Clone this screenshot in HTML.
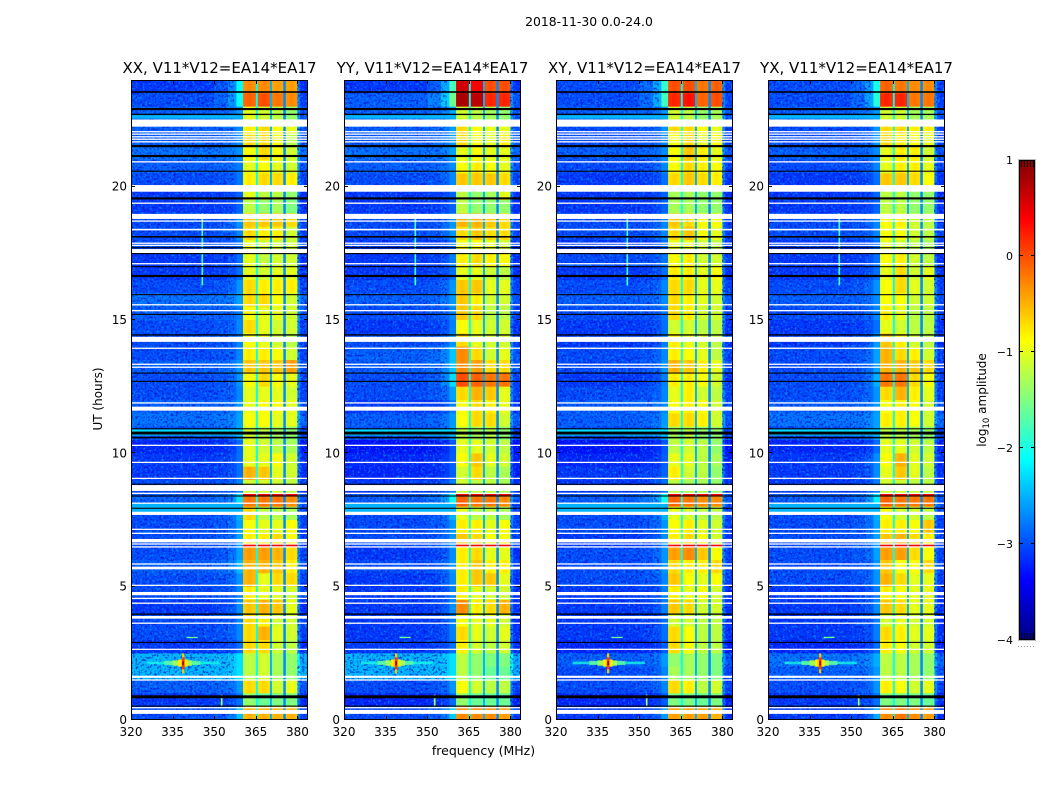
<!DOCTYPE html>
<html><head><meta charset="utf-8"><title>2018-11-30 0.0-24.0</title>
<style>html,body{margin:0;padding:0;background:#fff}svg{display:block}text{font-family:"DejaVu Sans","Liberation Sans",sans-serif;fill:#000}</style></head>
<body>
<svg id="chart" xmlns="http://www.w3.org/2000/svg" width="1050" height="800" viewBox="0 0 1050 800">
<defs>
<filter id="speck-light" x="0" y="0" width="100%" height="100%" color-interpolation-filters="sRGB"><feTurbulence type="fractalNoise" baseFrequency="0.42" numOctaves="2" seed="4"/><feColorMatrix type="matrix" values="0 0 0 0 0  0 0 0 0 0.62  0 0 0 0 1  5 0 0 0 -2.65"/></filter>
<filter id="speck-dark" x="0" y="0" width="100%" height="100%" color-interpolation-filters="sRGB"><feTurbulence type="fractalNoise" baseFrequency="0.42" numOctaves="2" seed="11"/><feColorMatrix type="matrix" values="0 0 0 0 0  0 0 0 0 0.05  0 0 0 0 0.8  5 0 0 0 -2.5"/></filter>
<linearGradient id="cbar-gradient" x1="0" y1="1" x2="0" y2="0"></linearGradient>
</defs>
<text x="589" y="26" font-size="12.4" text-anchor="middle">2018-11-30 0.0-24.0</text>
<text x="483.5" y="755" font-size="12.5" text-anchor="middle">frequency (MHz)</text>
<text transform="translate(102,399) rotate(-90)" font-size="12" text-anchor="middle">UT (hours)</text>
<text transform="translate(986,400) rotate(-90)" font-size="12" text-anchor="middle">log<tspan font-size="8.5" dy="3">10</tspan><tspan dy="-3"> amplitude</tspan></text>
</svg>
<script>
// Row tops run from 24 h downward in half-hour steps.
const rowHours = 0.5;
const panelTitles = ["XX, V11*V12=EA14*EA17","YY, V11*V12=EA14*EA17","XY, V11*V12=EA14*EA17","YX, V11*V12=EA14*EA17"];
const freqTicks = [320,335,350,365,380];
const hourTicks = [0,5,10,15,20];
const colorbarTicks = [-4,-3,-2,-1,0,1];

// Background level for 320-350 MHz, per half-hour row, top to bottom.
const xxBackground = [-3.1,-3.0,-2.9,-2.9,-2.9,-2.8,-2.9,-3.0,-3.1,-3.1,-3.0,-3.0,-3.0,-3.1,-3.1,-3.0,-2.8,-2.9,-3.0,-3.0,-3.0,-2.9,-3.0,-3.0,-2.9,-2.8,-3.0,-3.2,-3.1,-3.1,-3.0,-2.9,-3.0,-3.0,-3.0,-3.0,-2.9,-3.0,-3.0,-3.1,-3.0,-3.0,-3.1,-2.45,-2.45,-2.9,-3.1,-3.0];
const yyBackground = [-3.1,-2.9,-2.9,-2.9,-2.9,-2.8,-2.9,-3.0,-3.1,-3.1,-3.0,-3.0,-3.1,-3.1,-3.1,-3.0,-2.9,-3.0,-3.1,-3.0,-2.9,-2.9,-3.0,-3.0,-3.1,-2.9,-3.0,-3.3,-3.2,-3.2,-3.1,-2.9,-3.0,-3.0,-3.0,-3.1,-3.0,-3.1,-3.1,-3.1,-3.1,-3.1,-3.1,-2.45,-2.45,-3.0,-3.2,-3.0];
const xyBackground = [-3.0,-3.0,-2.9,-3.0,-3.0,-2.9,-3.0,-3.1,-3.1,-3.1,-3.0,-3.0,-3.1,-3.0,-3.1,-3.0,-2.9,-3.0,-3.1,-3.1,-3.0,-3.0,-3.1,-3.0,-2.9,-2.9,-3.0,-3.3,-3.2,-3.1,-3.1,-2.9,-3.0,-3.0,-3.1,-3.0,-3.0,-3.0,-3.1,-3.1,-3.1,-3.1,-3.2,-2.9,-3.0,-3.0,-3.2,-3.1];
const yxBackground = [-3.0,-3.0,-2.9,-3.0,-3.0,-2.9,-3.0,-3.1,-3.1,-3.1,-3.0,-3.0,-3.1,-3.1,-3.1,-3.0,-2.9,-3.0,-3.1,-3.1,-3.0,-3.0,-3.0,-3.0,-2.9,-2.8,-3.0,-3.2,-3.1,-3.1,-3.1,-2.9,-3.0,-3.0,-3.0,-3.0,-3.0,-3.0,-3.1,-3.1,-3.1,-3.1,-3.2,-2.8,-2.9,-3.0,-3.1,-3.1];

// Level just below the band edge (358-360 MHz).
const xxEdge = [-1.7,-1.7,-2.5,-2.6,-2.6,-2.6,-2.7,-2.7,-2.8,-2.8,-2.5,-2.6,-2.7,-2.7,-2.7,-2.5,-2.5,-2.7,-2.6,-2.6,-2.6,-2.5,-2.5,-2.6,-2.5,-2.5,-2.4,-2.7,-2.7,-2.7,-2.6,-2.0,-2.3,-2.4,-2.4,-2.4,-2.3,-2.5,-2.6,-2.5,-2.6,-2.6,-2.7,-2.2,-2.2,-2.5,-2.7,-2.2];
const yyEdge = [-1.2,-1.0,-2.4,-2.5,-2.5,-2.5,-2.6,-2.6,-2.8,-2.8,-2.5,-2.5,-2.7,-2.6,-2.7,-2.5,-2.5,-2.6,-2.6,-2.5,-2.2,-2.2,-2.0,-2.4,-2.6,-2.5,-2.4,-2.8,-2.8,-2.8,-2.6,-1.8,-2.3,-2.5,-2.5,-2.5,-2.5,-2.5,-2.6,-2.5,-2.6,-2.6,-2.7,-2.2,-2.2,-2.5,-2.7,-2.1];
const xyEdge = [-1.4,-1.3,-2.5,-2.5,-2.6,-2.6,-2.6,-2.7,-2.8,-2.8,-2.6,-2.6,-2.7,-2.7,-2.7,-2.6,-2.6,-2.7,-2.7,-2.6,-2.6,-2.5,-2.6,-2.6,-2.6,-2.5,-2.4,-2.8,-2.8,-2.8,-2.7,-1.7,-2.3,-2.5,-2.5,-2.5,-2.5,-2.6,-2.6,-2.6,-2.7,-2.7,-2.8,-2.5,-2.6,-2.6,-2.8,-2.4];
const yxEdge = [-1.6,-1.5,-2.5,-2.5,-2.5,-2.6,-2.6,-2.7,-2.8,-2.8,-2.6,-2.6,-2.7,-2.7,-2.7,-2.5,-2.6,-2.6,-2.7,-2.4,-2.4,-2.4,-2.3,-2.5,-2.5,-2.5,-2.4,-2.7,-2.5,-2.5,-2.6,-1.9,-2.3,-2.4,-2.4,-2.4,-2.5,-2.5,-2.6,-2.5,-2.6,-2.6,-2.7,-2.4,-2.5,-2.5,-2.7,-2.3];

// Levels of the four bright sub-bands [A,B,C,D], per half-hour row.
const xxBands = [[-.2,-.2,-.3,-.3],[.0,.1,-.1,-.2],[-.9,-1,-1.1,-1.3],[-.7,-.6,-.8,-.9],[-.6,-.6,-.8,-1.1],[-.8,-.6,-.8,-1],[-.9,-.8,-.9,-1],[-.7,-.6,-.6,-.7],[-.9,-1.1,-1.1,-1.3],[-1.1,-1.3,-1.2,-1.4],[-.5,-.5,-.5,-.6],[-.6,-.7,-.7,-1],[-.9,-1,-1,-1],[-.9,-1.1,-1,-1],[-.9,-1,-.9,-.9],[-.6,-.7,-.7,-.7],[-.6,-.6,-.8,-1],[-.8,-.9,-.9,-1],[-.6,-.9,-1,-1],[-.8,-.9,-1,-1.1],[-.7,-.7,-.8,-1],[-.5,-.5,-.5,-.3],[-.8,-.6,-.8,-.9],[-.9,-.9,-.9,-1],[-.9,-.8,-.8,-.9],[-.8,-.8,-.9,-.9],[-1,-1.1,-1.2,-1.3],[-.9,-1,-1.1,-1.2],[-.9,-.9,-.8,-1],[-.4,-.5,-.9,-1],[-1,-1,-1,-1.1],[-.1,-.1,-.1,-.2],[-.6,-1.1,-1.1,-1.2],[-.8,-.9,-.9,-.8],[-.7,-.7,-.6,-.8],[-.3,-.3,-.4,-.6],[-.4,-.4,-.5,-.7],[-.4,-.9,-.6,-.6],[-.7,-.9,-.9,-1],[-.5,-.4,-.5,-.9],[-.6,-.7,-1,-1],[-.6,-.4,-.9,-1],[-.6,-.6,-1,-1.1],[-1.1,-1,-1.2,-1.3],[-1.1,-1,-1.2,-1.3],[-.6,-.6,-1,-.9],[-1.3,-1.5,-1.4,-1.4],[-.4,-.4,-.4,-.4]];
const yyBands = [[.7,.5,.1,.1],[.9,.8,.3,.3],[-1,-1.1,-1.2,-1.3],[-.6,-.8,-.9,-.9],[-.6,-.8,-.9,-.7],[-.9,-.8,-.9,-.9],[-.8,-.7,-.8,-.9],[-.5,-.5,-.5,-.6],[-1.1,-1.3,-1.2,-.9],[-1.1,-1.3,-1.3,-1.3],[-.4,-.4,-.5,-.6],[-.6,-.5,-.6,-.6],[-.8,-.8,-.9,-1],[-.7,-.6,-.7,-.8],[-.9,-.9,-1,-1.1],[-.5,-.5,-.9,-.9],[-.5,-.7,-1,-1],[-.5,-.6,-1.1,-1.1],[-.8,-.9,-1,-1],[-.6,-.9,-1,-1],[-.2,-.6,-1,-.9],[-.2,-.3,-.6,-.6],[.1,.0,-.1,-.1],[-.6,-.4,-.5,-.9],[-.8,-.6,-.7,-.9],[-.8,-.6,-.6,-1],[-1.1,-1.2,-1.1,-1.3],[-.9,-.9,-1,-1.1],[-.8,-.5,-.9,-1],[-1,-.6,-1.1,-1.2],[-1,-1.1,-1.1,-1.2],[.0,-.1,-.1,-.2],[-.9,-1.1,-1.1,-1.2],[-.7,-.7,-.9,-.8],[-.5,-.6,-.8,-.8],[-.7,-.6,-.9,-.9],[-.7,-.5,-.7,-.7],[-.7,-.5,-.5,-.9],[-.7,-.9,-1,-1],[-.2,-.7,-.6,-.4],[-.8,-.9,-.9,-1],[-.6,-.9,-1,-.9],[-.7,-1,-1.1,-1],[-1.1,-1.3,-1.4,-1.4],[-1.1,-1.3,-1.5,-1.5],[-.8,-1,-1.1,-1.1],[-1.3,-1.5,-1.5,-1.5],[-.2,-.2,-.2,-.3]];
const xyBands = [[.1,.1,-.1,.0],[.3,.4,.0,.1],[-1,-1.1,-1.3,-1.2],[-.6,-.6,-.8,-.9],[-.8,-.6,-.9,-.8],[-.8,-.5,-.7,-.9],[-.8,-.6,-.7,-.8],[-.6,-.5,-.6,-.7],[-1.2,-1.2,-1.3,-1.3],[-1.2,-1.2,-1.3,-1.3],[-.5,-.6,-.8,-.8],[-.6,-.5,-.8,-.9],[-.9,-.9,-1,-1.1],[-.8,-.7,-1,-1],[-.7,-.7,-.9,-.8],[-.6,-.6,-.9,-.9],[-.6,-.7,-.9,-1],[-.6,-.7,-1,-1],[-1,-1,-1.1,-1.1],[-.7,-.9,-1,-1.1],[-.7,-.8,-.9,-1.1],[-.4,-.5,-.7,-.9],[-.7,-.7,-.8,-1],[-.9,-.7,-1,-1.1],[-.8,-.7,-.8,-1],[-.6,-.6,-.7,-1],[-1.2,-1.1,-1.3,-1.3],[-1.1,-1,-1.1,-1.3],[-.9,-.9,-1.1,-1.2],[-.7,-1,-1.1,-1.3],[-1.1,-1.2,-1.2,-1.3],[.0,-.1,-.2,-.2],[-.9,-1,-1.1,-1.1],[-.8,-.7,-.9,-1],[-.7,-.6,-.8,-1],[-.3,-.2,-.5,-.8],[-.6,-.7,-.7,-.6],[-.5,-.8,-.9,-.8],[-.7,-.9,-.8,-1],[-.5,-.6,-1,-1],[-1,-1,-1.1,-1.1],[-.6,-.8,-1.1,-1.1],[-.6,-.8,-1.1,-1.1],[-1.3,-1.2,-1.3,-1.4],[-1.2,-1.2,-1.3,-1.4],[-.6,-.7,-1.1,-1],[-1.4,-1.4,-1.5,-1.4],[-.3,-.3,-.3,-.4]];
const yxBands = [[.0,-.1,-.2,-.2],[.3,.3,-.1,-.1],[-1,-1,-1.2,-1.2],[-.6,-.6,-.7,-.7],[-.6,-.7,-.8,-.9],[-.9,-.7,-.7,-1],[-.9,-.7,-.7,-.9],[-.5,-.5,-.6,-.8],[-1.1,-1.1,-1.3,-1.3],[-1.1,-1.1,-1.3,-1.3],[-.8,-.7,-1,-1.1],[-.8,-.8,-1,-1.1],[-.9,-1,-1.1,-1.2],[-.8,-.7,-1,-1.1],[-.9,-.6,-1,-.9],[-.8,-.6,-.9,-1],[-.8,-.8,-1,-1],[-.7,-.9,-1.1,-1.1],[-.9,-1,-1.1,-1.1],[-.5,-.7,-1,-1.1],[-.4,-.6,-.7,-1],[-.4,-.4,-.5,-.6],[-.1,-.1,-.6,-.8],[-.6,-.4,-.7,-.9],[-.8,-.7,-.8,-1],[-.7,-.7,-.8,-1],[-1.1,-1.1,-1.2,-1.3],[-.9,-.9,-1,-1.1],[-.8,-.4,-.9,-1],[-.9,-.5,-.9,-1.1],[-1,-1,-1.1,-1.1],[.0,-.1,-.1,-.1],[-.8,-1,-1,-1.1],[-.7,-.7,-.8,-.5],[-.5,-.4,-.6,-.7],[-.3,-.3,-.6,-.8],[-.5,-.8,-.8,-.6],[-.4,-.6,-.9,-.9],[-.7,-.8,-.9,-.9],[-.5,-.6,-.9,-.9],[-1,-.9,-1,-1],[-.6,-.7,-.9,-.9],[-.7,-.8,-1,-1],[-1.1,-1.1,-1.2,-1.3],[-1.1,-1.1,-1.2,-1.3],[-.7,-.8,-1,-.9],[-1.4,-1.4,-1.4,-1.5],[-.2,-.1,-.2,-.3]];

// Frequency columns (MHz) and how each takes its level.
const freqEdges = [320,335,350,355,358,360.4,361.9,363.5,365.0,365.7,367.2,368.8,370.1,370.8,372.2,373.5,374.9,375.8,377.2,378.7,380.0,381,383.8];
const columnKinds = ["bg","bg","bg","bg","bg","band","band","band","slit","band","band","band","slit","band","band","band","slit","band","band","band","near","far"];
const columnBand = [0,0,0,0,0,0,0,0,0,1,1,1,1,2,2,2,2,3,3,3,0,0];
const edgeMix = [0,0,0.1,0.3,0.7];
const bandProfile = [-0.13,-0.08,-0.13,-0.13,-0.08,-0.13,-0.13,-0.08,-0.13,-0.13,-0.08,-0.13];
const slitLevels = [-2.1,-2.5,-2.7];

// Wide-band bright strips below the bands: hour span and level.
const stripHourLow  = [22.55,10.67,7.8];
const stripHourHigh = [22.72,10.9,8.13];
const stripLevel    = [-2.5,-2.3,-2.5];

// Narrow-band interference: frequency span, hour span, level.
const rfiFreqLow  = [326,332,335,337,338.4,338.3,338.5,340,345.4,352.4,352.4];
const rfiFreqHigh = [352,345,342,340.4,339.2,339.3,339.1,344,346,353,353];
const rfiHourLow  = [2.09,2.06,2.03,2.0,1.75,1.9,2.06,3.07,16.3,0.5,0.85];
const rfiHourHigh = [2.19,2.22,2.24,2.27,2.5,2.35,2.2,3.12,19,0.95,0.93];
const rfiLevel    = [-2.0,-1.6,-1.2,-0.8,-0.6,0.1,0.8,-1.6,-1.8,-1.3,-0.5];

// Strong short-lived stripes across the bright bands.
const hotHourLow  = [8.42,6.5];
const hotHourHigh = [8.5,6.58];
const hotLevel    = [0.4,0.35];

// Flagged time ranges (white).
const gapHourLow  = [22.25,19.81,18.79,18.36,17.51,14.18,11.60,8.59,7.69,6.66,5.65,4.68,3.80,1.58,0.23];
const gapHourHigh = [22.52,20.06,18.98,18.42,17.66,14.37,11.75,8.81,7.81,6.79,5.75,4.80,3.90,1.66,0.38];
const gapLineHours = [22.06,21.97,21.87,21.78,21.68,20.93,19.38,18.71,17.88,17.80,17.11,15.57,15.35,13.94,13.34,13.23,11.89,10.30,9.66,9.06,8.50,8.13,7.15,7.00,6.60,6.49,5.85,5.05,4.56,4.38,3.63,2.65,1.50,0.46];
// Zero-amplitude times (black).
const blackHours  = [23.55,22.91,22.71,21.52,21.15,20.58,19.56,18.12,17.71,17.49,17.0,16.65,15.95,15.21,14.44,13.01,12.70,10.92,10.76,10.59,8.84,8.40,7.94,3.97,2.91,0.87,0.52];
const blackWidths = [0.06,0.08,0.05,0.08,0.08,0.04,0.08,0.06,0.04,0.04,0.04,0.08,0.04,0.04,0.05,0.04,0.04,0.04,0.11,0.06,0.04,0.04,0.04,0.05,0.04,0.11,0.04];

const panelBackgrounds = [xxBackground,yyBackground,xyBackground,yxBackground];
const panelEdges = [xxEdge,yyEdge,xyEdge,yxEdge];
const panelBands = [xxBands,yyBands,xyBands,yxBands];
const panelKeys = ["xx","yy","xy","yx"];

const NS = "http://www.w3.org/2000/svg";
const root = document.getElementById("chart");
const axisLefts = [131,344,556,768];
const axisWidth = 177, axisTop = 80, axisHeight = 640;
const freqMin = 320, freqMax = 383.8;

function make(parent, tag, attrs) {
  const el = document.createElementNS(NS, tag);
  for (const k in attrs) el.setAttribute(k, attrs[k]);
  parent.appendChild(el);
  return el;
}
function xScale(p, f) { return axisLefts[p] + (f - freqMin) / (freqMax - freqMin) * axisWidth; }
function yScale(h) { return axisTop + (24 - h) / 24 * axisHeight; }
function jet(t) {
  t = Math.max(0, Math.min(1, t));
  const ch = (a) => Math.max(0, Math.min(1, 1.5 - Math.abs(4 * t - a)));
  return "rgb(" + Math.round(255 * ch(3)) + "," + Math.round(255 * ch(2)) + "," + Math.round(255 * ch(1)) + ")";
}
function levelColor(v) { return jet((v + 4) / 5); }
function cellLevel(p, r, c) {
  const kind = columnKinds[c], bg = panelBackgrounds[p][r], edge = panelEdges[p][r];
  if (kind === "bg") return bg + (edge - bg) * edgeMix[c];
  if (kind === "near") return bg + 0.3;
  if (kind === "far") return bg - 0.05;
  const b = columnBand[c];
  if (kind === "slit") return slitLevels[b];
  const bandCol = c - 5 - b;
  return panelBands[p][r][b] + bandProfile[bandCol];
}

panelKeys.forEach(function (key, p) {
  const g = make(root, "g", {});
  
  
  const clipId = "clip-" + key;
  const clip = make(make(root, "defs", {}), "clipPath", { id: clipId });
  make(clip, "rect", { x: axisLefts[p], y: axisTop, width: axisWidth, height: axisHeight });
  const plot = make(g, "g", { "clip-path": "url(#" + clipId + ")" });
  
  

  panelBackgrounds[p].forEach(function (_, r) {
    const hTop = 24 - r * rowHours;
    columnKinds.forEach(function (_, c) {
      const x0 = xScale(p, freqEdges[c]), x1 = xScale(p, freqEdges[c + 1]);
      const y0 = yScale(hTop), y1 = yScale(hTop - rowHours);
      const cell = make(plot, "rect", { x: x0, y: y0, width: x1 - x0 + 0.3, height: y1 - y0 + 0.3, fill: levelColor(cellLevel(p, r, c)) });
      
      
    });
  });

  // Speckle overlays on the low-level regions
  [["speck-light", 320, 357], ["speck-dark", 320, 357], ["speck-light", 380, 383.8], ["speck-dark", 380, 383.8]].forEach(function (s) {
    const x0 = xScale(p, s[1]), x1 = xScale(p, s[2]);
    const sp = make(plot, "rect", { x: x0, y: axisTop, width: x1 - x0, height: axisHeight, filter: "url(#" + s[0] + ")", opacity: 0.65 });
    
    
  });

  stripLevel.forEach(function (lv, i) {
    const x0 = xScale(p, 320), x1 = xScale(p, 360.4);
    const y0 = yScale(stripHourHigh[i]), y1 = yScale(stripHourLow[i]);
    const m = make(plot, "rect", { x: x0, y: y0, width: x1 - x0, height: y1 - y0, fill: levelColor(lv) });
    
    
  });

  rfiLevel.forEach(function (lv, i) {
    const x0 = xScale(p, rfiFreqLow[i]), x1 = xScale(p, rfiFreqHigh[i]);
    const y0 = yScale(rfiHourHigh[i]), y1 = yScale(rfiHourLow[i]);
    const m = make(plot, "rect", { x: x0, y: y0, width: x1 - x0, height: y1 - y0, fill: levelColor(lv), opacity: i < 3 ? 0.75 : 1 });
    
    
  });

  hotLevel.forEach(function (lv, i) {
    [[360.4,365.0],[365.7,370.1],[370.8,374.9],[375.8,380.0]].forEach(function (span) {
      const x0 = xScale(p, span[0]), x1 = xScale(p, span[1]);
      const y0 = yScale(hotHourHigh[i]), y1 = yScale(hotHourLow[i]);
      const m = make(plot, "rect", { x: x0, y: y0, width: x1 - x0, height: y1 - y0, fill: levelColor(lv) });
      
      
    });
  });

  gapHourLow.forEach(function (lo, i) {
    const y0 = yScale(gapHourHigh[i]), y1 = yScale(lo);
    const m = make(plot, "rect", { x: axisLefts[p], y: y0, width: axisWidth, height: y1 - y0, fill: "#fff" });
    
    
  });
  gapLineHours.forEach(function (h) {
    const m = make(plot, "rect", { x: axisLefts[p], y: yScale(h) - 0.65, width: axisWidth, height: 1.3, fill: "#fff" });
    
    
  });
  blackHours.forEach(function (h, i) {
    const t = blackWidths[i] / 24 * axisHeight;
    const m = make(plot, "rect", { x: axisLefts[p], y: yScale(h) - t / 2, width: axisWidth, height: t, fill: "#000" });
    
    
  });

  // Frame
  const frame = make(g, "rect", { x: axisLefts[p] + 0.5, y: axisTop + 0.5, width: axisWidth - 1, height: axisHeight - 1, fill: "none", stroke: "#000", "stroke-width": 1 });
  
  

  // Ticks and labels
  freqTicks.forEach(function (f) {
    const x = Math.round(xScale(p, f)) + 0.5;
    const t = make(g, "path", { d: "M" + x + " " + (axisTop + axisHeight) + "v-4M" + x + " " + axisTop + "v4", stroke: "#000", "stroke-width": 1, fill: "none" });
    
    
    const l = make(g, "text", { x: xScale(p, f), y: 736, "font-size": 12, "text-anchor": "middle" });
    l.textContent = f;
    
    
  });
  hourTicks.forEach(function (h) {
    const y = Math.round(yScale(h)) - 0.5;
    const x0 = axisLefts[p], x1 = x0 + axisWidth;
    const t = make(g, "path", { d: "M" + x0 + " " + y + "h4M" + x1 + " " + y + "h-4", stroke: "#000", "stroke-width": 1, fill: "none" });
    
    
    const l = make(g, "text", { x: x0 - 4, y: yScale(h) + 4, "font-size": 12, "text-anchor": "end" });
    l.textContent = h;
    
    
  });
  const title = make(g, "text", { x: axisLefts[p] + axisWidth / 2, y: 73, "font-size": 15, "text-anchor": "middle" });
  title.textContent = panelTitles[p];
  
  
});

// Colorbar
const cbX = 1019, cbW = 16, cbTop = 160, cbH = 480;
const cbGrad = document.getElementById("cbar-gradient");
for (let s = 0; s <= 32; s++) {
  make(cbGrad, "stop", { offset: s / 32, "stop-color": jet(s / 32) });
}
const cb = make(root, "g", {});


function cbY(v) { return cbTop + (1 - v) / 5 * cbH; }
const cbBody = make(cb, "rect", { x: cbX, y: cbTop, width: cbW, height: cbH, fill: "url(#cbar-gradient)" });


const cbFrame = make(cb, "rect", { x: cbX + 0.5, y: cbTop + 0.5, width: cbW - 1, height: cbH - 1, fill: "none", stroke: "#000", "stroke-width": 1 });


const cbEdge = make(cb, "rect", { x: cbX - 0.5, y: cbTop - 0.5, width: cbW + 1, height: cbH + 1, fill: "none", stroke: "#bbb", "stroke-width": 1 });


colorbarTicks.forEach(function (v) {
  const y = Math.round(cbY(v)) + (v === 1 ? 0.5 : -0.5);
  const t = make(cb, "path", { d: "M" + cbX + " " + y + "h4M" + (cbX + cbW) + " " + y + "h-4", stroke: "#000", "stroke-width": 1, fill: "none" });
  
  
  const l = make(cb, "text", { x: 1013, y: cbY(v) + 4, "font-size": 11, "text-anchor": "end" });
  l.textContent = v < 0 ? "\u2212" + (-v) : String(v);
  
  
});
const cbMinor = make(cb, "path", { d: "M1021.5 161v6M1024.5 161v6M1027.5 161v6M1030.5 161v6M1033.5 161v6M1021.5 639v-6M1024.5 639v-6M1027.5 639v-6M1030.5 639v-6M1033.5 639v-6", stroke: "#000", "stroke-width": 0.8, fill: "none" });


const cbDots = make(cb, "path", { d: "M1018 646.5h18", stroke: "#999", "stroke-width": 1, "stroke-dasharray": "1 2", fill: "none" });


</script>
</body></html>
